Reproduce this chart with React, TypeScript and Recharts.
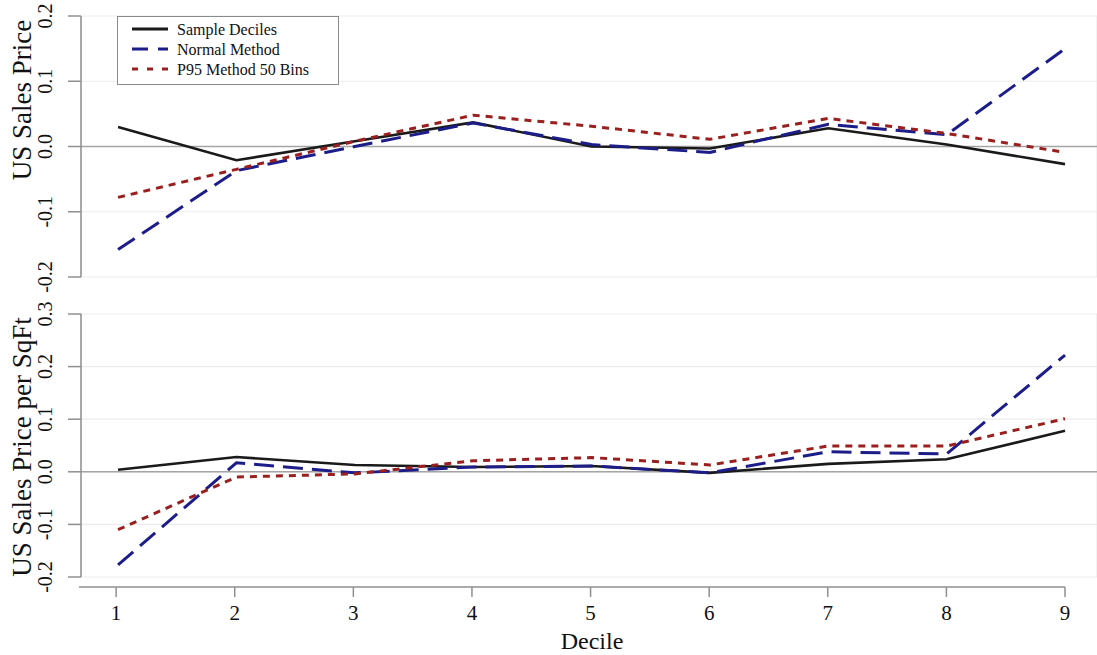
import React from 'react';
import { LineChart, Line, XAxis, YAxis, CartesianGrid, ReferenceLine } from 'recharts';

const deciles = [1, 2, 3, 4, 5, 6, 7, 8, 9];

// Top panel: US Sales Price
const priceSample = [0.03, -0.021, 0.008, 0.037, 0.0, -0.003, 0.028, 0.003, -0.027];
const priceNormal = [-0.158, -0.037, 0.0, 0.036, 0.003, -0.009, 0.034, 0.018, 0.15];
const priceP95 = [-0.078, -0.035, 0.008, 0.048, 0.031, 0.011, 0.043, 0.02, -0.009];

// Bottom panel: US Sales Price per SqFt
const sqftSample = [0.004, 0.028, 0.013, 0.009, 0.011, -0.002, 0.015, 0.024, 0.078];
const sqftNormal = [-0.177, 0.017, -0.002, 0.009, 0.011, -0.002, 0.038, 0.034, 0.222];
const sqftP95 = [-0.11, -0.01, -0.004, 0.021, 0.027, 0.013, 0.049, 0.049, 0.101];

const topTicks = [-0.2, -0.1, 0.0, 0.1, 0.2];
const bottomTicks = [-0.2, -0.1, 0.0, 0.1, 0.2, 0.3];

const seriesNames = ['Sample Deciles', 'Normal Method', 'P95 Method 50 Bins'];

const topData = deciles.map((d, i) => ({ d, sample: priceSample[i], normal: priceNormal[i], p95: priceP95[i] }));
const bottomData = deciles.map((d, i) => ({ d, sample: sqftSample[i], normal: sqftNormal[i], p95: sqftP95[i] }));

const FONT = '"Liberation Serif", "DejaVu Serif", serif';
const BLACK = '#1a1a1a';
const BLUE = '#1d1d8a';
const RED = '#9a1f1f';
const AXIS = '#8f8f8f';
const GRID = '#ececec';
const X_DOMAIN: [number, number] = [0.687, 9.27];

const YTick = (props: any) => {
  const { x, y, payload } = props;
  const cx = x - 21;
  return (
    <text
      x={cx}
      y={y}
      transform={`rotate(-90, ${cx}, ${y})`}
      textAnchor="middle"
      dominantBaseline="central"
      fontFamily={FONT}
      fontSize={20}
      fill="#111"
    >
      {Number(payload.value).toFixed(1)}
    </text>
  );
};

const XTick = (props: any) => {
  const { x, y, payload } = props;
  return (
    <text x={x} y={y + 14} textAnchor="middle" dominantBaseline="central" fontFamily={FONT} fontSize={21} fill="#111">
      {payload.value}
    </text>
  );
};

const LegendBox = () => {
  const items = [
    { name: seriesNames[0], color: BLACK, dash: undefined, w: 3 },
    { name: seriesNames[1], color: BLUE, dash: '16 10', w: 3 },
    { name: seriesNames[2], color: RED, dash: '6 9', w: 3 },
  ];
  return (
    <svg width={222} height={69} style={{ display: 'block' }}>
      <rect x={0.5} y={0.5} width={221} height={68} fill="#fff" stroke="#8a8a8a" strokeWidth={1} />
      {items.map((it, i) => (
        <g key={it.name}>
          <line x1={15} x2={51} y1={13 + i * 20} y2={13 + i * 20} stroke={it.color} strokeWidth={it.w} strokeDasharray={it.dash} />
          <text x={60} y={13 + i * 20} dominantBaseline="central" fontFamily={FONT} fontSize={16} fill="#111">
            {it.name}
          </text>
        </g>
      ))}
    </svg>
  );
};

const Panel = ({ data, ticks, domain, top, height }: any) => (
  <LineChart
    width={1097}
    height={height + 20}
    data={data}
    margin={{ top, right: 0, bottom: 20, left: 0 }}
    style={{ position: 'absolute', left: 0, top: 0 }}
  >
    <CartesianGrid stroke={GRID} strokeWidth={1.2} />
    <XAxis
      dataKey="d"
      type="number"
      domain={X_DOMAIN}
      ticks={deciles}
      allowDataOverflow
      height={0}
      axisLine={false}
      tickLine={false}
      tick={false}
    />
    <YAxis
      type="number"
      domain={domain}
      ticks={ticks}
      interval={0}
      width={81}
      axisLine={{ stroke: AXIS, strokeWidth: 1.5 }}
      tickLine={{ stroke: AXIS, strokeWidth: 1.5 }}
      tickSize={13}
      tick={<YTick />}
    />
    <ReferenceLine y={0} stroke="#a5a5a5" strokeWidth={1.5} />
    <Line type="linear" dataKey="sample" name={seriesNames[0]} stroke={BLACK} strokeWidth={2.6} dot={false} isAnimationActive={false} />
    <Line type="linear" dataKey="normal" name={seriesNames[1]} stroke={BLUE} strokeWidth={3} strokeDasharray="20 9" dot={false} isAnimationActive={false} />
    <Line type="linear" dataKey="p95" name={seriesNames[2]} stroke={RED} strokeWidth={3} strokeDasharray="7 6" dot={false} isAnimationActive={false} />
  </LineChart>
);

export default function App() {
  return (
    <div style={{ position: 'absolute', left: 0, top: 0, width: 1097, height: 655, background: '#fff', overflow: 'hidden' }}>
      <Panel data={topData} ticks={topTicks} domain={[-0.2, 0.2]} top={16} height={277} />
      <Panel data={bottomData} ticks={bottomTicks} domain={[-0.2, 0.3]} top={314} height={577} />
      <div style={{ position: 'absolute', left: 0, top: 586 }}>
        <LineChart width={1097} height={61} data={bottomData} margin={{ top: 0, right: 32, bottom: 0, left: 79 }}>
          <XAxis
            dataKey="d"
            type="number"
            domain={[0.687, 9]}
            ticks={deciles}
            interval={0}
            allowDataOverflow
            height={60}
            axisLine={{ stroke: AXIS, strokeWidth: 1.5 }}
            tickLine={{ stroke: AXIS, strokeWidth: 1.5 }}
            tickSize={10}
            tick={<XTick />}
          />
          <YAxis hide domain={[-0.2, 0.3]} />
        </LineChart>
      </div>
      <div style={{ position: 'absolute', left: 117, top: 16 }}>
        <LegendBox />
      </div>
      <svg width={1097} height={655} style={{ position: 'absolute', left: 0, top: 0, pointerEvents: 'none' }}>
        <text x={22} y={100} transform="rotate(-90, 22, 100)" textAnchor="middle" dominantBaseline="central" fontFamily={FONT} fontSize={27} fill="#111">
          US Sales Price
        </text>
        <text x={22} y={447} transform="rotate(-90, 22, 447)" textAnchor="middle" dominantBaseline="central" fontFamily={FONT} fontSize={27} fill="#111">
          US Sales Price per SqFt
        </text>
        <text x={592} y={641} textAnchor="middle" dominantBaseline="central" fontFamily={FONT} fontSize={24} fill="#111">
          Decile
        </text>
      </svg>
    </div>
  );
}
